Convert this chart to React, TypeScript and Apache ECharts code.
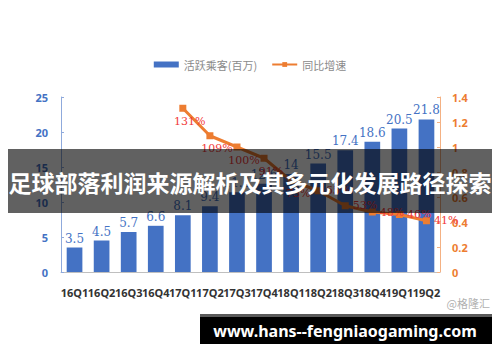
import React, { useEffect, useRef } from "react";
import * as echarts from "echarts";

const categories = ["16Q1","16Q2","16Q3","16Q4","17Q1","17Q2","17Q3","17Q4","18Q1","18Q2","18Q3","18Q4","19Q1","19Q2"];
const riders = [3.5, 4.5, 5.7, 6.6, 8.1, 9.4, 11.4, 12.6, 14, 15.5, 17.4, 18.6, 20.5, 21.8];
const growth = [null, null, null, null, 1.31, 1.09, 1.0, 0.91, 0.73, 0.65, 0.53, 0.48, 0.46, 0.41];
const growthLabelPos = ["", "", "", "", "bottom", "bottom", "bottom", "bottom", "bottom", "right", "right", "right", "right", "right"];
const leftTicks = [0, 5, 10, 15, 20, 25];
const rightTicks = [0, 0.2, 0.4, 0.6, 0.8, 1, 1.2, 1.4];
const titleText = "足球部落利润来源解析及其多元化发展路径探索";
const urlText = "www.hans--fengniaogaming.com";
const watermark = "@格隆汇";

export default function App() {
  const ref = useRef<HTMLDivElement>(null);
  useEffect(() => {
    if (!ref.current) return;
    const chart = echarts.init(ref.current, null, { renderer: "svg" });
    const lineData = growth.map((v, i) =>
      v == null
        ? null
        : {
            value: v,
            label: {
              position: growthLabelPos[i] as any,
              offset: growthLabelPos[i] === "bottom" ? [7, 0] : [0, 0],
            },
          }
    );
    chart.setOption({
      animation: false,
      textStyle: { fontFamily: "Noto Sans CJK SC" },
      legend: {
        top: 54,
        left: "center",
        itemGap: 14,
        itemWidth: 25,
        itemHeight: 6,
        textStyle: { color: "#8a8a8a", fontSize: 11, fontFamily: "Noto Sans CJK SC" },
        data: [
          { name: "活跃乘客(百万)", icon: "rect" },
          { name: "同比增速" },
        ],
      },
      grid: { left: 61, right: 60, top: 97, bottom: 90 },
      xAxis: {
        type: "category",
        data: categories,
        axisLine: { lineStyle: { color: "#bfbfbf" } },
        axisTick: { inside: true, length: 3, lineStyle: { color: "#999" } },
        axisLabel: {
          interval: 0,
          color: "#333",
          fontSize: 11,
          fontWeight: "bold",
          fontFamily: "Noto Sans",
          margin: 15,
        },
      },
      yAxis: [
        {
          type: "value",
          min: leftTicks[0],
          max: leftTicks[leftTicks.length - 1],
          interval: 5,
          splitLine: { show: false },
          axisLine: { show: true, lineStyle: { color: "#8faadc" } },
          axisTick: { show: true, inside: true, length: 3, lineStyle: { color: "#8faadc" } },
          axisLabel: { color: "#4472c4", fontSize: 11, fontWeight: "bold", margin: 13, fontFamily: "Noto Sans" },
        },
        {
          type: "value",
          min: rightTicks[0],
          max: rightTicks[rightTicks.length - 1],
          interval: 0.2,
          position: "right",
          splitLine: { show: false },
          axisLine: { show: true, lineStyle: { color: "#f4b183" } },
          axisTick: { show: true, inside: true, length: 3, lineStyle: { color: "#f4b183" } },
          axisLabel: { color: "#ed7d31", fontSize: 11, fontWeight: "bold", margin: 12, fontFamily: "Noto Sans" },
        },
      ],
      series: [
        {
          name: "活跃乘客(百万)",
          type: "bar",
          data: riders,
          barWidth: "58%",
          itemStyle: { color: "#4472c4" },
          label: {
            show: true,
            position: "top",
            distance: 3,
            color: "#4472c4",
            fontSize: 12,
            fontFamily: "DejaVu Serif",
          },
        },
        {
          name: "同比增速",
          type: "line",
          yAxisIndex: 1,
          data: lineData,
          connectNulls: false,
          symbol: "rect",
          symbolSize: 7,
          lineStyle: { color: "#ed7d31", width: 3 },
          itemStyle: { color: "#ed7d31" },
          label: {
            show: true,
            color: "#f23a3a",
            fontSize: 11,
            fontFamily: "DejaVu Serif",
            distance: 4,
            formatter: (p: any) => Math.round(p.value * 100) + "%",
          },
        },
      ],
      graphic: [
        {
          type: "rect",
          shape: { x: 8, y: 149, width: 484, height: 64 },
          style: { fill: "rgba(0,0,0,0.62)" },
          z: 100,
        },
        {
          type: "text",
          x: 250,
          y: 182,
          style: {
            text: titleText,
            fill: "#ffffff",
            font: "bold 23px 'Noto Sans CJK SC'",
            align: "center",
            verticalAlign: "middle",
          },
          z: 101,
        },
        {
          type: "text",
          x: 490,
          y: 303,
          style: {
            text: watermark,
            fill: "#b0b0b0",
            font: "11px 'Noto Sans CJK SC'",
            align: "right",
            verticalAlign: "middle",
          },
          z: 100,
        },
        {
          type: "rect",
          shape: { x: 200, y: 314, width: 292, height: 3 },
          style: { fill: "#5a5a5a" },
          z: 100,
        },
        {
          type: "rect",
          shape: { x: 200, y: 317, width: 292, height: 27 },
          style: { fill: "#000000" },
          z: 100,
        },
        {
          type: "text",
          x: 345,
          y: 331,
          style: {
            text: urlText,
            fill: "#ffffff",
            font: "bold 16px 'Noto Sans'",
            align: "center",
            verticalAlign: "middle",
          },
          z: 101,
        },
      ],
    });
    return () => chart.dispose();
  }, []);
  return (
    <div
      ref={ref}
      style={{ position: "fixed", left: 0, top: 0, width: 500, height: 362, background: "#fff" }}
    />
  );
}
